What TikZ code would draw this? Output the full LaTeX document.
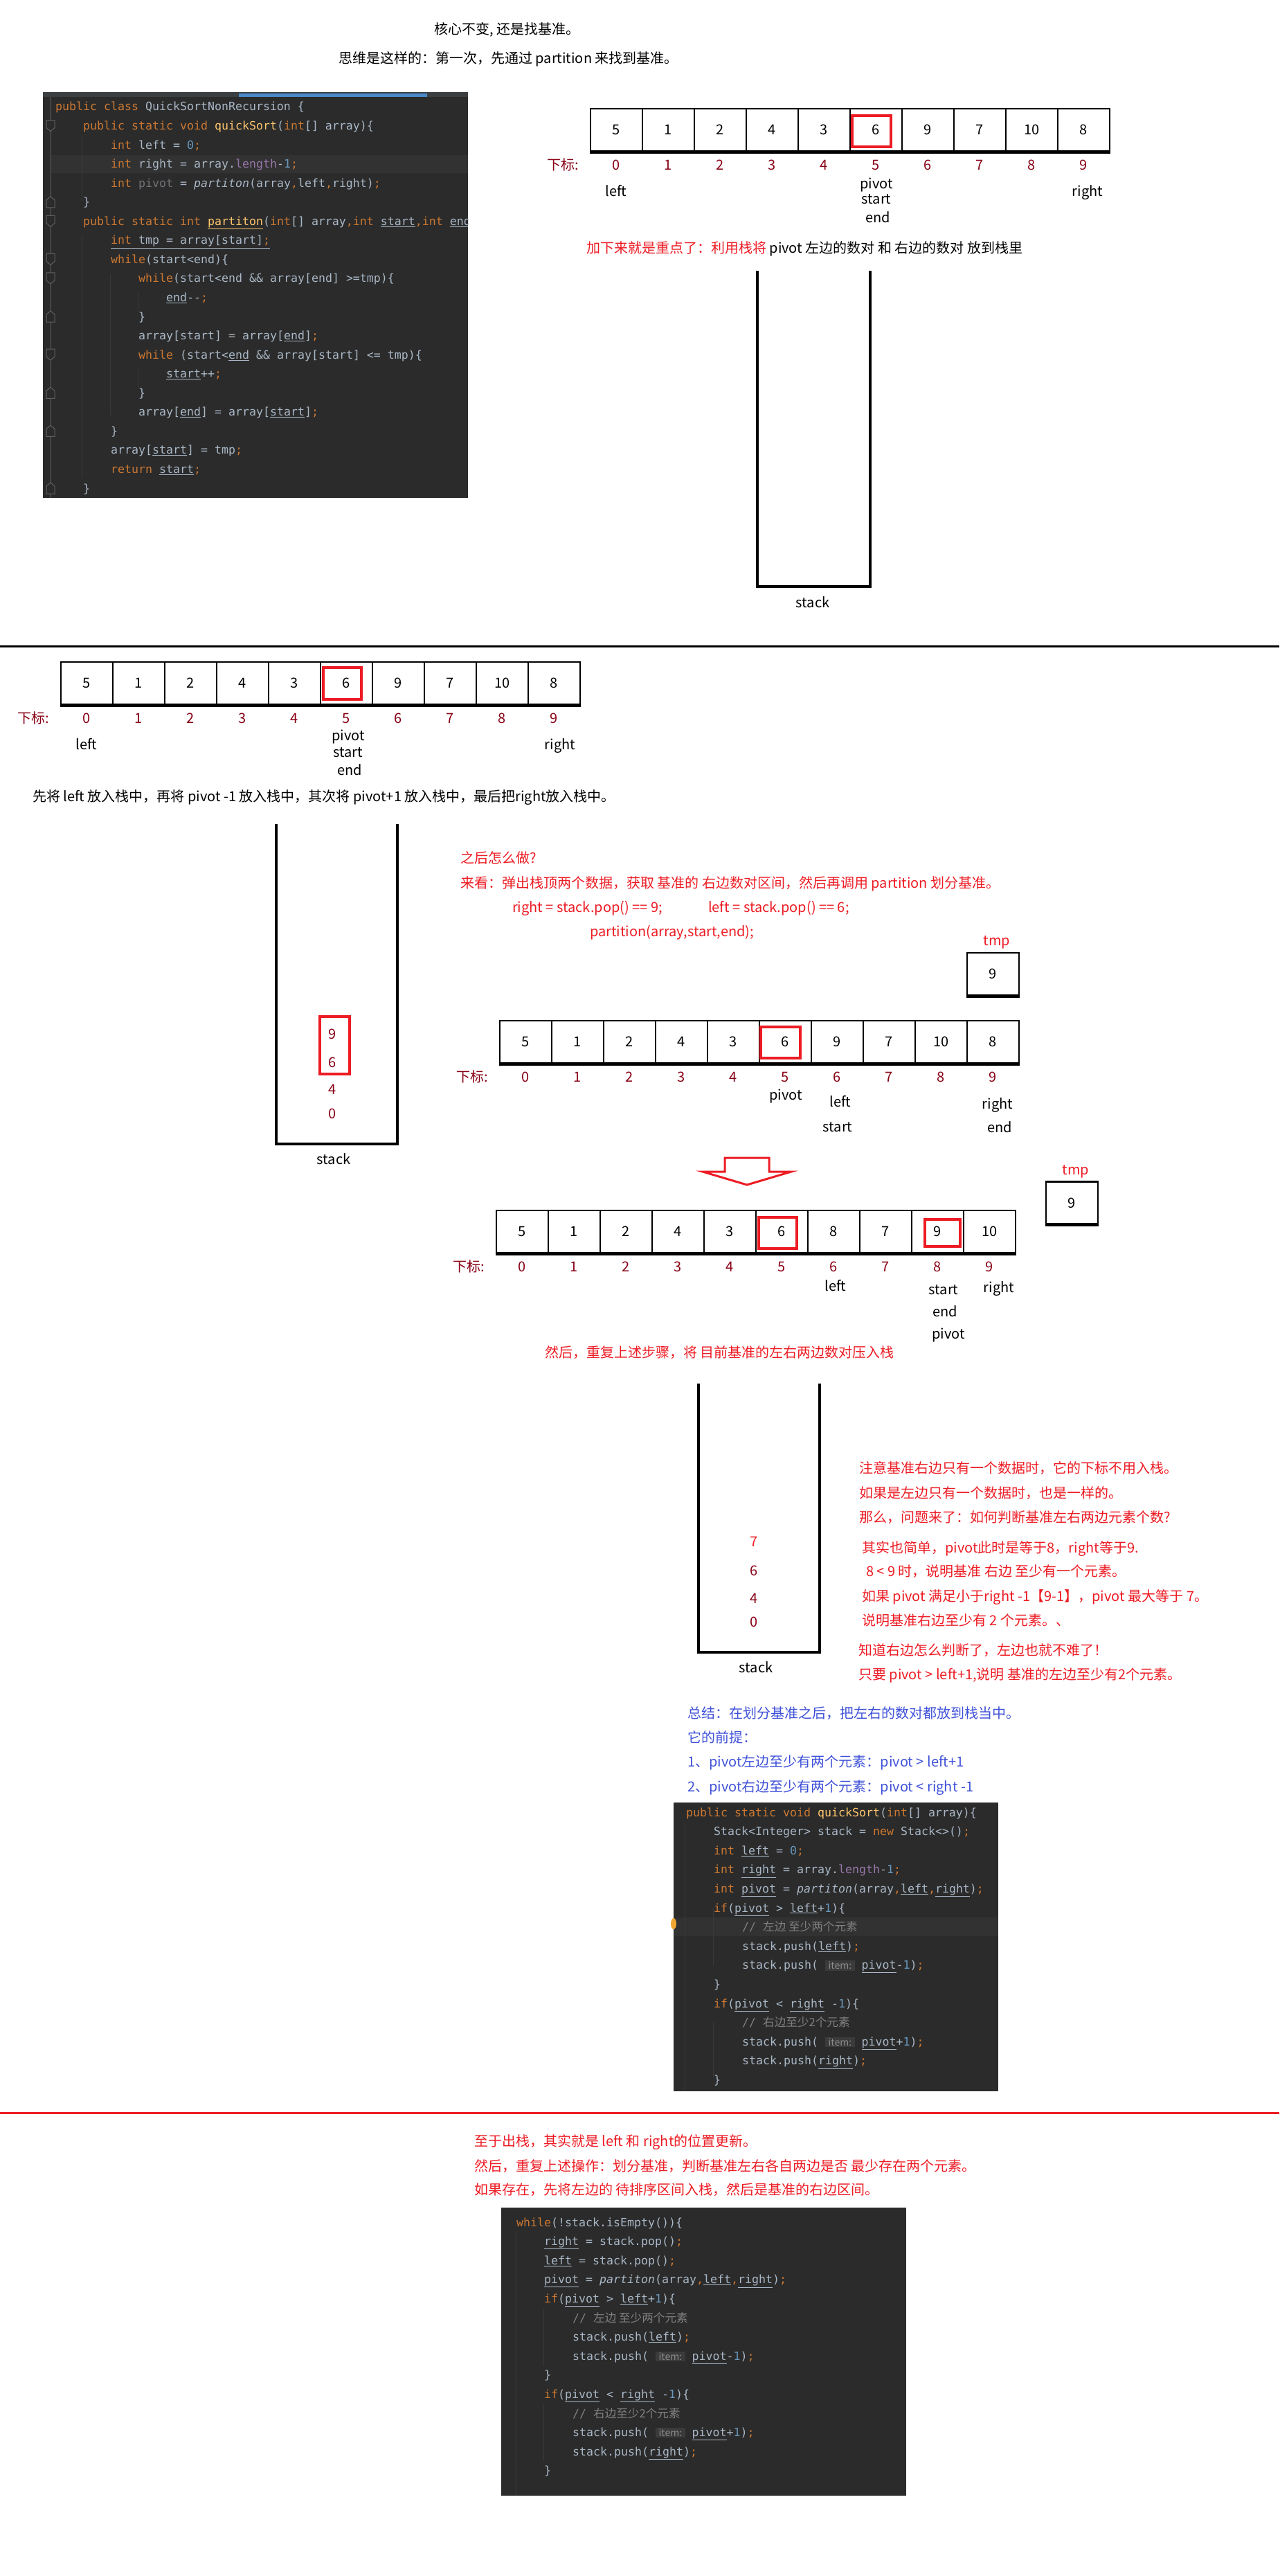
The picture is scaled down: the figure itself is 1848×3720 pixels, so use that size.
\documentclass[tikz,border=0pt]{standalone}
\usepackage{fontspec}
\setmainfont{Noto Sans CJK SC}
\setmonofont{DejaVu Sans Mono}
\newfontfamily\cjk{Noto Sans CJK SC}
\newfontfamily\hintfont{Noto Sans CJK SC}

\definecolor{markred}{RGB}{237,28,36}
\definecolor{idxred}{RGB}{136,0,21}
\definecolor{sumblue}{RGB}{63,81,216}
\definecolor{codebg}{HTML}{2B2B2B}
\definecolor{rowhl}{HTML}{323232}
\definecolor{codefg}{HTML}{A9B7C6}
\definecolor{kwc}{HTML}{CC7832}
\definecolor{fnc}{HTML}{FFC66D}
\definecolor{numc}{HTML}{6897BB}
\definecolor{fldc}{HTML}{9876AA}
\definecolor{unusedc}{HTML}{72737A}
\definecolor{cmtc}{HTML}{808080}
\definecolor{hintbg}{HTML}{3B3B3B}
\definecolor{hintfg}{HTML}{8C8C8C}
\definecolor{guide}{HTML}{3A3A3A}
\definecolor{foldc}{HTML}{5F6163}
\definecolor{tabgrey}{HTML}{3C3F41}
\definecolor{tabblue}{HTML}{4A88C7}
\definecolor{bulbc}{HTML}{F0A732}

% code colouring
\newcommand{\ckw}[1]{\textcolor{kwc}{#1}}
\newcommand{\cfn}[1]{\textcolor{fnc}{#1}}
\newcommand{\cnum}[1]{\textcolor{numc}{#1}}
\newcommand{\cfld}[1]{\textcolor{fldc}{#1}}
\newcommand{\csemi}{\textcolor{kwc}{;}}
\newcommand{\ccma}{\textcolor{kwc}{,}}
\newcommand{\cul}[1]{\underline{#1}}
\newcommand{\cnote}[1]{\textcolor{cmtc}{// {\cjk #1}}}
\newcommand{\chint}{{\setlength{\fboxsep}{1.5pt}\colorbox{hintbg}{\hspace{3pt}\textcolor{hintfg}{\hintfont\fontsize{14}{16}\selectfont item:}\hspace{3pt}}}}

\tikzset{
  txt/.style={font=\fontsize{20}{24}\selectfont, inner sep=0pt, anchor=base west},
  word/.style={font=\fontsize{20}{24}\selectfont, inner sep=0pt, anchor=base},
  cellbox/.style={draw, line width=2.5pt, minimum width=75pt, minimum height=61pt, inner sep=0pt, font=\fontsize{20}{24}\selectfont},
  idx/.style={text=idxred, font=\fontsize{20}{24}\selectfont, inner sep=0pt, anchor=base},
  pickbox/.style={draw=markred, line width=3.5pt},
  stackwall/.style={line width=4pt},
  code/.style={font=\fontsize{16.6}{20}\selectfont\ttfamily, text=codefg, inner sep=0pt, anchor=base west},
  guideline/.style={guide, line width=1pt},
  foldmark/.style={draw=foldc, fill=codebg, line width=1pt}
}

% one array with its index row
\newcommand{\numrow}[4]{%
  \foreach \v [count=\k from 0] in {#4} {
    \node[cellbox] (#1c\k) at ({#2+37.5+75*\k},{#3+30.5}) {\v};
    \node[idx] (#1i\k) at ({#2+37.5+75*\k},{#3+88}) {\k};
  }
  \node[idx] (#1lab) at ({#2-40},{#3+88}) {下标:};
  \draw[line width=4.5pt] (#1c0.south west) -- (#1c9.south east);
}

\begin{document}
\begin{tikzpicture}[x=1pt,y=-1pt]
\useasboundingbox[fill=white] (0,0) rectangle (1848,3720);

% ---- part 1
\node[txt] (title) at (627,50) {核心不变, 还是找基准。};
\node[txt] (idea) at (489,92) {思维是这样的：第一次，先通过 partition 来找到基准。};

% first code window
\fill[codebg] (62,133) rectangle (676,719);
\fill[tabgrey] (62,133) rectangle (676,140);
\fill[tabblue] (345,135) rectangle (617,140);
\fill[rowhl] (73,224) rectangle (676,250);
\draw[foldc, line width=1pt] (73,140) -- (73,719);
\foreach \i in {2,7,9,10,14}
  \draw[foldmark] (67,{154+27.55*(\i-1)-8}) -- ++(12,0) -- ++(0,11) -- ++(-6,5) -- ++(-6,-5) -- cycle;
\foreach \i in {6,12,16,18,21}
  \draw[foldmark] (67,{154+27.55*(\i-1)+8}) -- ++(12,0) -- ++(0,-11) -- ++(-6,-5) -- ++(-6,5) -- cycle;
\draw[guideline] (118,195) -- (118,290);
\draw[guideline] (118,340) -- (118,690);
\draw[guideline] (159,395) -- (159,600);
\draw[guideline] (199,422) -- (199,450);
\draw[guideline] (199,532) -- (199,560);
\begin{scope}
\clip (62,133) rectangle (676,719);
\node[code] (ka1) at (80,{160+27.55*0}) {\ckw{public class} QuickSortNonRecursion \{};
\node[code] (ka2) at (120,{160+27.55*1}) {\ckw{public static void} \cfn{quickSort}(\ckw{int}[] array)\{};
\node[code] (ka3) at (160,{160+27.55*2}) {\ckw{int} left = \cnum{0}\csemi};
\node[code] (ka4) at (160,{160+27.55*3}) {\ckw{int} right = array.\cfld{length}-\cnum{1}\csemi};
\node[code] (ka5) at (160,{160+27.55*4}) {\ckw{int} \textcolor{unusedc}{pivot} = \textit{partiton}(array\ccma left\ccma right)\csemi};
\node[code] (ka6) at (120,{160+27.55*5}) {\}};
\node[code] (ka7) at (120,{160+27.55*6}) {\ckw{public static int} \cfn{\cul{partiton}}(\ckw{int}[] array\ccma\ckw{int} \cul{start}\ccma\ckw{int} \cul{end})\{};
\node[code] (ka8) at (160,{160+27.55*7}) {\cul{\ckw{int} tmp = array[start]\csemi}};
\node[code] (ka9) at (160,{160+27.55*8}) {\ckw{while}(start<end)\{};
\node[code] (ka10) at (200,{160+27.55*9}) {\ckw{while}(start<end \&\& array[end] >=tmp)\{};
\node[code] (ka11) at (240,{160+27.55*10}) {\cul{end}-{}-\csemi};
\node[code] (ka12) at (200,{160+27.55*11}) {\}};
\node[code] (ka13) at (200,{160+27.55*12}) {array[start] = array[\cul{end}]\csemi};
\node[code] (ka14) at (200,{160+27.55*13}) {\ckw{while} (start<\cul{end} \&\& array[start] <= tmp)\{};
\node[code] (ka15) at (240,{160+27.55*14}) {\cul{start}++\csemi};
\node[code] (ka16) at (200,{160+27.55*15}) {\}};
\node[code] (ka17) at (200,{160+27.55*16}) {array[\cul{end}] = array[\cul{start}]\csemi};
\node[code] (ka18) at (160,{160+27.55*17}) {\}};
\node[code] (ka19) at (160,{160+27.55*18}) {array[\cul{start}] = tmp\csemi};
\node[code] (ka20) at (160,{160+27.55*19}) {\ckw{return} \cul{start}\csemi};
\node[code] (ka21) at (120,{160+27.55*20}) {\}};
\end{scope}

% first array
\numrow{a}{853}{157}{5,1,2,4,3,6,9,7,10,8}
\draw[pickbox] (1231,167) rectangle (1287,212);
\node[word] (aleft) at (890,283) {left};
\node[word] (apivot) at (1266,272) {pivot};
\node[word] (astart) at (1266,294) {start};
\node[word] (aend) at (1268,321) {end};
\node[word] (aright) at (1571,283) {right};
\node[txt] (tip1) at (847,365) {\textcolor{markred}{加下来就是重点了：利用栈将} pivot 左边的数对 和 右边的数对 放到栈里};

% empty stack
\draw[stackwall] (1094,391) -- (1094,847) -- (1257,847) -- (1257,391);
\node[word] (stk1) at (1174,877) {stack};

\draw[line width=3pt] (0,933) -- (1848,933);

% ---- part 2
\numrow{b}{88}{956}{5,1,2,4,3,6,9,7,10,8}
\draw[pickbox] (467,964) rectangle (522,1010);
\node[word] (bleft) at (125,1082) {left};
\node[word] (bpivot) at (503,1069) {pivot};
\node[word] (bstart) at (503,1093) {start};
\node[word] (bend) at (505,1119) {end};
\node[word] (bright) at (809,1082) {right};
\node[txt] (push1) at (47,1157) {先将 left 放入栈中，再将 pivot -1 放入栈中，其次将 pivot+1 放入栈中，最后把right放入栈中。};

% stack with four entries
\draw[stackwall] (399,1190) -- (399,1652) -- (574,1652) -- (574,1190);
\node[word] (stk2) at (482,1681) {stack};
\node[idx] (s2a) at (480,1500) {9};
\node[idx] (s2b) at (480,1541) {6};
\node[idx] (s2c) at (480,1580) {4};
\node[idx] (s2d) at (480,1615) {0};
\draw[pickbox] (462,1468) rectangle (505,1551);

\begin{scope}[every node/.append style={text=markred}]
\node[txt] (ask) at (665,1246) {之后怎么做?};
\node[txt] (look) at (665,1282) {来看：弹出栈顶两个数据，获取 基准的 右边数对区间，然后再调用 partition 划分基准。};
\node[txt] (popr) at (740,1317) {right = stack.pop() == 9;};
\node[txt] (popl) at (1023,1317) {left = stack.pop() == 6;};
\node[txt] (call) at (852,1352) {partition(array,start,end);};
\node[word] (tmpa) at (1440,1365) {tmp};
\node[word] (tmpb) at (1554,1696) {tmp};
\end{scope}

\node[cellbox] (tmpA) at (1434.5,1406.5) {9};
\draw[line width=4.5pt] (tmpA.south west) -- (tmpA.south east);

\numrow{c}{722}{1474}{5,1,2,4,3,6,9,7,10,8}
\draw[pickbox] (1099,1483) rectangle (1156,1528);
\node[word] (cpivot) at (1135,1588) {pivot};
\node[word] (cleft) at (1214,1598) {left};
\node[word] (cstart) at (1210,1634) {start};
\node[word] (cright) at (1441,1601) {right};
\node[word] (cend) at (1444,1635) {end};

% down arrow
\draw[markred, line width=3pt, line join=miter] (1047,1672) -- (1111,1672) -- (1111,1692) -- (1143,1692)
  -- (1079,1711) -- (1015,1692) -- (1047,1692) -- cycle;

\node[cellbox] (tmpB) at (1548.5,1737) {9};
\draw[line width=4.5pt] (tmpB.south west) -- (tmpB.south east);

\numrow{d}{717}{1748}{5,1,2,4,3,6,8,7,9,10}
\draw[pickbox] (1096,1758) rectangle (1151,1803);
\draw[pickbox] (1336,1761) rectangle (1387,1800);
\node[word] (dleft) at (1207,1864) {left};
\node[word] (dstart) at (1363,1869) {start};
\node[word] (dend) at (1365,1901) {end};
\node[word] (dpivot) at (1370,1933) {pivot};
\node[word] (dright) at (1443,1866) {right};
\node[txt, text=markred] (again) at (787,1960) {然后，重复上述步骤，将 目前基准的左右两边数对压入栈};

% stack after the first pops
\draw[stackwall] (1009,1998) -- (1009,2386) -- (1184,2386) -- (1184,1998);
\node[word] (stk3) at (1092,2415) {stack};
\node[idx, text=markred] (s3a) at (1089,2233) {7};
\node[idx] (s3b) at (1089,2275) {6};
\node[idx] (s3c) at (1089,2315) {4};
\node[idx] (s3d) at (1089,2349) {0};

\begin{scope}[every node/.append style={text=markred}]
\node[txt] (n1) at (1241,2127) {注意基准右边只有一个数据时，它的下标不用入栈。};
\node[txt] (n2) at (1241,2163) {如果是左边只有一个数据时，也是一样的。};
\node[txt] (n3) at (1241,2198) {那么，问题来了：如何判断基准左右两边元素个数?};
\node[txt] (n4) at (1245,2242) {其实也简单，pivot此时是等于8，right等于9.};
\node[txt] (n5) at (1251,2276) {8 < 9 时，说明基准 右边 至少有一个元素。};
\node[txt] (n6) at (1245,2312) {如果 pivot 满足小于right -1【9-1】，pivot 最大等于 7。};
\node[txt] (n7) at (1245,2347) {说明基准右边至少有 2 个元素。、};
\node[txt] (n8) at (1240,2390) {知道右边怎么判断了，左边也就不难了！};
\node[txt] (n9) at (1240,2425) {只要 pivot > left+1,说明 基准的左边至少有2个元素。};
\end{scope}

\begin{scope}[every node/.append style={text=sumblue}]
\node[txt] (sum1) at (993,2481) {总结：在划分基准之后，把左右的数对都放到栈当中。};
\node[txt] (sum2) at (993,2516) {它的前提：};
\node[txt] (sum3) at (993,2551) {1、pivot左边至少有两个元素：pivot > left+1};
\node[txt] (sum4) at (993,2587) {2、pivot右边至少有两个元素：pivot < right -1};
\end{scope}

% second code window
\fill[codebg] (973,2603) rectangle (1442,3020);
\fill[rowhl] (973,2769) rectangle (1442,2796);
\draw[guideline] (989,2632) -- (989,3020);
\draw[guideline] (1030,2755) -- (1030,2838);
\draw[guideline] (1030,2920) -- (1030,3000);
\fill[bulbc] (973,2778) ellipse (4 and 8);
\node[code] (kb1) at (991,{2623+27.6*0}) {\ckw{public static void} \cfn{quickSort}(\ckw{int}[] array)\{};
\node[code] (kb2) at (1031,{2623+27.6*1}) {Stack<Integer> stack = \ckw{new} Stack<>()\csemi};
\node[code] (kb3) at (1031,{2623+27.6*2}) {\ckw{int} \cul{left} = \cnum{0}\csemi};
\node[code] (kb4) at (1031,{2623+27.6*3}) {\ckw{int} \cul{right} = array.\cfld{length}-\cnum{1}\csemi};
\node[code] (kb5) at (1031,{2623+27.6*4}) {\ckw{int} \cul{pivot} = \textit{partiton}(array\ccma\cul{left}\ccma\cul{right})\csemi};
\node[code] (kb6) at (1031,{2623+27.6*5}) {\ckw{if}(\cul{pivot} > \cul{left}+\cnum{1})\{};
\node[code] (kb7) at (1072,{2623+27.6*6}) {\cnote{左边 至少两个元素}};
\node[code] (kb8) at (1072,{2623+27.6*7}) {stack.push(\cul{left})\csemi};
\node[code] (kb9) at (1072,{2623+27.6*8}) {stack.push( \chint\ \cul{pivot}-\cnum{1})\csemi};
\node[code] (kb10) at (1031,{2623+27.6*9}) {\}};
\node[code] (kb11) at (1031,{2623+27.6*10}) {\ckw{if}(\cul{pivot} < \cul{right} -\cnum{1})\{};
\node[code] (kb12) at (1072,{2623+27.6*11}) {\cnote{右边至少2个元素}};
\node[code] (kb13) at (1072,{2623+27.6*12}) {stack.push( \chint\ \cul{pivot}+\cnum{1})\csemi};
\node[code] (kb14) at (1072,{2623+27.6*13}) {stack.push(\cul{right})\csemi};
\node[code] (kb15) at (1031,{2623+27.6*14}) {\}};

\draw[markred, line width=3pt] (0,3051) -- (1848,3051);

% ---- part 3
\begin{scope}[every node/.append style={text=markred}]
\node[txt] (out1) at (685,3099) {至于出栈，其实就是 left 和 right的位置更新。};
\node[txt] (out2) at (685,3135) {然后，重复上述操作：划分基准，判断基准左右各自两边是否 最少存在两个元素。};
\node[txt] (out3) at (685,3169) {如果存在，先将左边的 待排序区间入栈，然后是基准的右边区间。};
\end{scope}

% third code window
\fill[codebg] (724,3188) rectangle (1309,3604);
\draw[guideline] (745,3222) -- (745,3604);
\draw[guideline] (785,3334) -- (785,3417);
\draw[guideline] (785,3472) -- (785,3554);
\node[code] (kc1) at (746,{3215+27.6*0}) {\ckw{while}(!stack.isEmpty())\{};
\node[code] (kc2) at (786,{3215+27.6*1}) {\cul{right} = stack.pop()\csemi};
\node[code] (kc3) at (786,{3215+27.6*2}) {\cul{left} = stack.pop()\csemi};
\node[code] (kc4) at (786,{3215+27.6*3}) {\cul{pivot} = \textit{partiton}(array\ccma\cul{left}\ccma\cul{right})\csemi};
\node[code] (kc5) at (786,{3215+27.6*4}) {\ckw{if}(\cul{pivot} > \cul{left}+\cnum{1})\{};
\node[code] (kc6) at (827,{3215+27.6*5}) {\cnote{左边 至少两个元素}};
\node[code] (kc7) at (827,{3215+27.6*6}) {stack.push(\cul{left})\csemi};
\node[code] (kc8) at (827,{3215+27.6*7}) {stack.push( \chint\ \cul{pivot}-\cnum{1})\csemi};
\node[code] (kc9) at (786,{3215+27.6*8}) {\}};
\node[code] (kc10) at (786,{3215+27.6*9}) {\ckw{if}(\cul{pivot} < \cul{right} -\cnum{1})\{};
\node[code] (kc11) at (827,{3215+27.6*10}) {\cnote{右边至少2个元素}};
\node[code] (kc12) at (827,{3215+27.6*11}) {stack.push( \chint\ \cul{pivot}+\cnum{1})\csemi};
\node[code] (kc13) at (827,{3215+27.6*12}) {stack.push(\cul{right})\csemi};
\node[code] (kc14) at (786,{3215+27.6*13}) {\}};
\end{tikzpicture}
\end{document}
